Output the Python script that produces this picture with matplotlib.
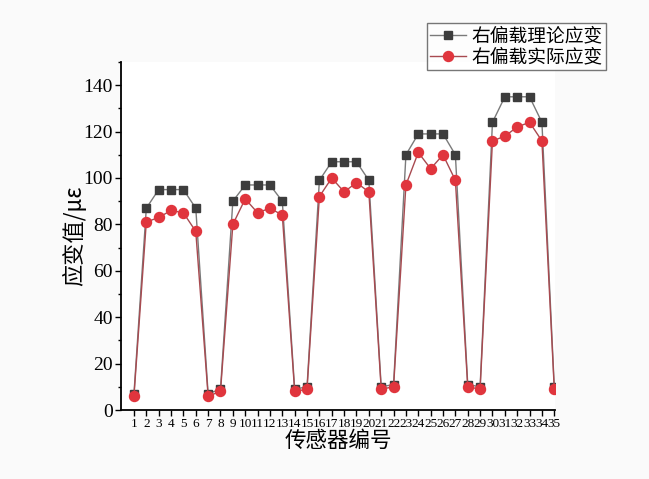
import matplotlib.pyplot as plt
from matplotlib.ticker import MultipleLocator

plt.rcParams['font.family'] = ['Liberation Serif', 'Noto Sans CJK SC']

# sensor numbers and strains (right eccentric load)
sensors = list(range(1, 36))
theory = [7, 87, 95, 95, 95, 87, 7,
          9, 90, 97, 97, 97, 90, 9,
          10, 99, 107, 107, 107, 99, 10,
          11, 110, 119, 119, 119, 110, 11,
          10, 124, 135, 135, 135, 124, 10]
actual = [6, 81, 83, 86, 85, 77, 6,
          8, 80, 91, 85, 87, 84, 8,
          9, 92, 100, 94, 98, 94, 9,
          10, 97, 111, 104, 110, 99, 10,
          9, 116, 118, 122, 124, 116, 9]

fig = plt.figure(figsize=(6.49, 4.79), dpi=100, facecolor='#fafafa')
ax = fig.add_axes([0.1864, 0.144, 0.6686, 0.7266])
ax.set_facecolor('white')

ax.plot(sensors, theory, color='#7a7a7a', lw=1.0, marker='s', ms=6.2,
        mfc='#3d3d3d', mec='#3d3d3d', label='右偏载理论应变')
ax.plot(sensors, actual, color='#a84a50', lw=1.0, marker='o', ms=7.2,
        mfc='#e0353d', mec='#e0353d', label='右偏载实际应变')

ax.set_xlim(-0.05, 35.05)
ax.set_ylim(0, 150)
ax.set_xticks(sensors)
ax.set_xticklabels([str(s) for s in sensors], fontsize=9.5)
ax.yaxis.set_minor_locator(MultipleLocator(10))
ax.set_yticks([0, 20, 40, 60, 80, 100, 120, 140])
ax.tick_params(axis='y', labelsize=14, direction='out', length=4, width=1, pad=2)
ax.tick_params(axis='y', which='minor', direction='out', length=2.5, width=1)
ax.tick_params(axis='x', direction='out', length=4, width=1, pad=2)

for s in ['top', 'right']:
    ax.spines[s].set_visible(False)
for s in ['left', 'bottom']:
    ax.spines[s].set_linewidth(1.3)

ax.set_xlabel('传感器编号', fontsize=15.5, family=['Noto Sans CJK SC'], labelpad=0)
ax.set_ylabel('应变值/με', fontsize=16, family=['Noto Sans CJK SC', 'DejaVu Sans'], labelpad=-2)

leg = fig.legend(loc='upper right', bbox_to_anchor=(0.933, 0.953),
                 prop={'family': ['Noto Sans CJK SC'], 'size': 13.5},
                 frameon=True, fancybox=False, edgecolor='#555555',
                 handlelength=1.9, borderpad=0.15, labelspacing=0.0, handletextpad=0.3,
                 borderaxespad=0)
leg.get_frame().set_linewidth(1.0)

fig.savefig('out.png', dpi=100, facecolor=fig.get_facecolor())
